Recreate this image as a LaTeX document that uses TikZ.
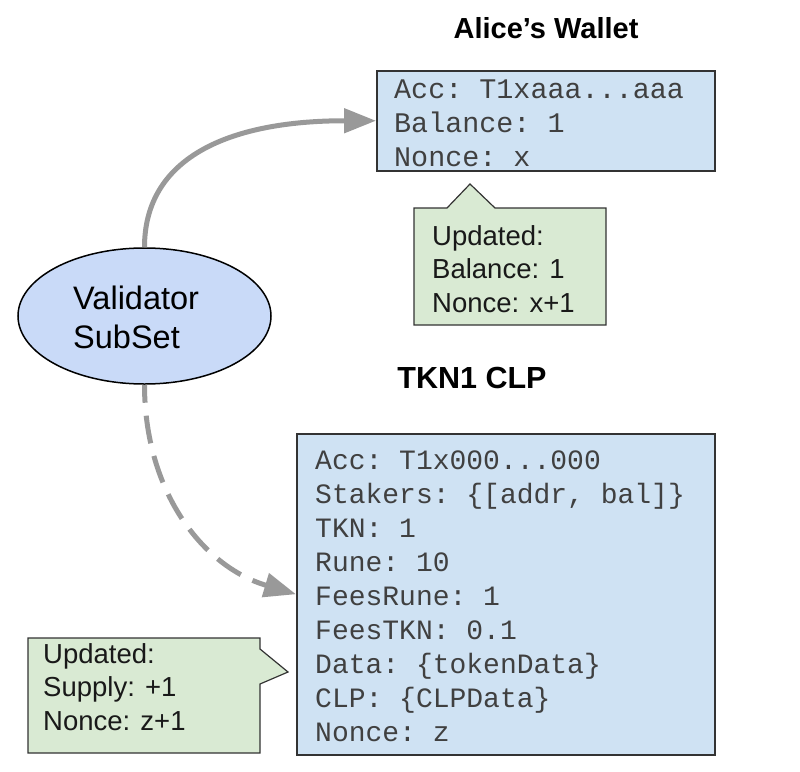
\documentclass[tikz,border=0pt]{standalone}
\usepackage{fontspec}
\setmainfont{Liberation Sans}
\setsansfont{Liberation Sans}
\setmonofont{Liberation Mono}
\usetikzlibrary{arrows.meta,shapes.geometric}
\definecolor{boxblue}{HTML}{CFE2F3}
\definecolor{ellblue}{HTML}{C9DAF8}
\definecolor{notegreen}{HTML}{D9EAD3}
\definecolor{arrowgray}{HTML}{999999}
\definecolor{edgegray}{HTML}{333333}
\tikzset{
  databox/.style={draw=edgegray, line width=1.5pt, fill=boxblue, inner sep=0pt, anchor=north west},
  monotext/.style={inner sep=0pt, anchor=base west, align=left, text=black!75,
    font=\fontsize{28}{34}\selectfont\ttfamily},
  notetext/.style={inner sep=0pt, anchor=base west, align=left, text=black!90,
    font=\fontsize{27.5}{33.5}\selectfont},
  notebox/.style={draw=edgegray, line width=1.2pt, fill=notegreen, line join=miter},
  titletext/.style={inner sep=0pt, anchor=base, font=\fontsize{29}{30}\selectfont\bfseries},
  flow/.style={draw=arrowgray, line width=5pt, -{Triangle[length=32pt,width=24pt]}}
}
\begin{document}
\begin{tikzpicture}[x=1pt,y=-1pt]
\useasboundingbox (0,0) rectangle (800,771);

% titles
\node[titletext] (t1) at (546,38) {Alice’s Wallet};
\node[titletext, font=\fontsize{30.5}{32}\selectfont\bfseries] (t2) at (472,388) {TKN1 CLP};

% wallet box
\node[databox, minimum width=338pt, minimum height=100pt] (wallet) at (376,70) {};
\node[monotext, font=\fontsize{28.4}{34}\selectfont\ttfamily] (wtext) at (394,166) {Acc: T1xaaa...aaa\\Balance: 1\\Nonce: x};

% TKN box
\node[databox, minimum width=418pt, minimum height=321pt] (tkn) at (296,433) {};
\node[monotext] (ttext) at (315,741) {Acc: T1x000...000\\Stakers: \{[addr, bal]\}\\TKN: 1\\Rune: 10\\FeesRune: 1\\FeesTKN: 0.1\\Data: \{tokenData\}\\CLP: \{CLPData\}\\Nonce: z};

% validator ellipse
\node[ellipse, draw=black, line width=1.5pt, fill=ellblue, minimum width=253pt, minimum height=136pt, inner sep=0pt] (val) at (144.5,316) {};
\node[inner sep=0pt, anchor=base west, align=left, font=\fontsize{32.5}{39}\selectfont] (vtext) at (73,348) {Validator\\SubSet};

% callout notes
\draw[notebox] (414,208) -- (447,208) -- (470,184) -- (495,208) -- (606,208) -- (606,325) -- (414,325) -- cycle;
\node[notetext] (n1) at (432,312) {Updated:\\Balance: 1\\Nonce: x+1};

\draw[notebox] (28,638) -- (260,638) -- (260,649) -- (288,672) -- (260,684) -- (260,753) -- (28,753) -- cycle;
\node[notetext] (n2) at (43,730) {Updated:\\Supply: +1\\Nonce: z+1};

% connectors
\draw[flow] (val.north) .. controls +(0,-88) and +(-150,0) .. (wallet.west);
\draw[flow, dash pattern=on 28pt off 13pt, dash phase=10pt] (val.south) .. controls +(0,106) and +(-94,-28) .. (tkn.west);
\end{tikzpicture}
\end{document}
